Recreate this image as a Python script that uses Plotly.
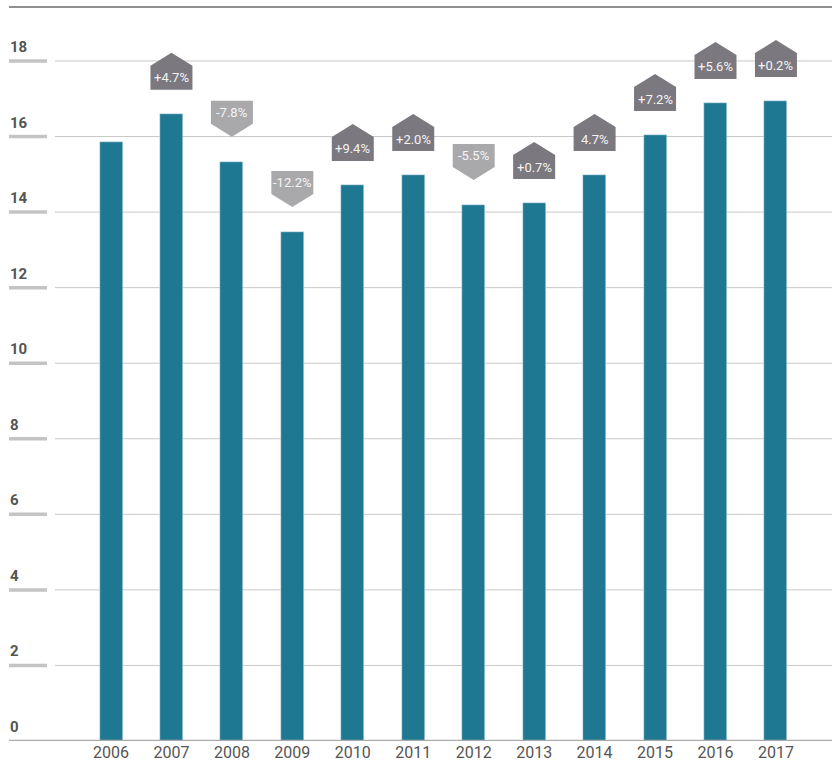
import plotly.graph_objects as go

years = ["2006", "2007", "2008", "2009", "2010", "2011", "2012", "2013", "2014", "2015", "2016", "2017"]
values = [15.85, 16.6, 15.33, 13.47, 14.72, 14.98, 14.19, 14.24, 14.98, 16.04, 16.89, 16.94]
changes = [None, "+4.7%", "-7.8%", "-12.2%", "+9.4%", "+2.0%", "-5.5%", "+0.7%", "4.7%", "+7.2%", "+5.6%", "+0.2%"]
change_up = [None, True, False, False, True, True, False, True, True, True, True, True]
y_ticks = [0, 2, 4, 6, 8, 10, 12, 14, 16, 18]

W, H = 832, 774
PL, PR, PT, PB = 55, 832, 20, 741   # plot area in screen px
ML, MR, MT, MB = PL, W - PR, PT, H - PB
plot_w = PR - PL
plot_h = PB - PT
step_px = 60.45
first_px = 111 - PL
x_min = -first_px / step_px
x_max = x_min + plot_w / step_px
px_per_unit = 37.78
y_max = plot_h / px_per_unit

ux = 1.0 / step_px      # x units per pixel
uy = 1.0 / px_per_unit  # y units per pixel

BAR = "#1e7891"
UP = "#7b787f"
DOWN = "#a9a9ab"

xs = list(range(len(years)))
fig = go.Figure()
fig.add_trace(go.Bar(x=xs, y=values, marker_color=BAR, width=23 * ux,
                     hoverinfo="skip"))

shapes = []
annotations = []

def px_x(p):
    return (p - PL) / plot_w

def px_y(p):
    return (PB - p) / plot_h

# top rule
shapes.append(dict(type="line", xref="paper", yref="paper",
                   x0=px_x(9), x1=px_x(832), y0=px_y(7), y1=px_y(7),
                   line=dict(color="#6a6a6a", width=1.5)))

# gridlines + left tick marks + labels
for t in y_ticks:
    if t == 0:
        shapes.append(dict(type="line", xref="paper", yref="y", x0=px_x(9), x1=1,
                           y0=0, y1=0, line=dict(color="#ababab", width=2.5), layer="above"))
    else:
        shapes.append(dict(type="line", xref="paper", yref="y", x0=0, x1=1,
                           y0=t, y1=t, line=dict(color="#c9c9c9", width=1), layer="below"))
        shapes.append(dict(type="line", xref="paper", yref="y", x0=px_x(9), x1=px_x(47),
                           y0=t, y1=t, line=dict(color="#c4c4c4", width=3.5)))
    annotations.append(dict(text=str(t), xref="paper", yref="y", x=px_x(8), y=t,
                            xanchor="left", yanchor="middle", yshift=14, showarrow=False,
                            font=dict(family="Roboto", size=15, color="#555555", weight="bold")))

# change badges
hw = 21 * ux
for i, (v, lab, up) in enumerate(zip(values, changes, change_up)):
    if lab is None:
        continue
    if up:
        r0 = v + 24 * uy
        r1 = r0 + 24 * uy
        apex = r1 + 13 * uy
        path = (f"M {i-hw},{r0} L {i+hw},{r0} L {i+hw},{r1} L {i},{apex} "
                f"L {i-hw},{r1} Z")
        col = UP
    else:
        pt = v + 25 * uy
        r0 = pt + 13 * uy
        r1 = r0 + 23 * uy
        path = (f"M {i},{pt} L {i+hw},{r0} L {i+hw},{r1} L {i-hw},{r1} "
                f"L {i-hw},{r0} Z")
        col = DOWN
    shapes.append(dict(type="path", xref="x", yref="y", path=path,
                       fillcolor=col, line=dict(width=0), layer="above"))
    annotations.append(dict(text=lab, x=i, y=(r0 + r1) / 2, xref="x", yref="y",
                            showarrow=False, xanchor="center", yanchor="middle",
                            font=dict(family="Roboto", size=13, color="#f4f4f4")))

fig.update_layout(
    width=W, height=H,
    margin=dict(l=ML, r=MR, t=MT, b=MB),
    paper_bgcolor="white", plot_bgcolor="white",
    showlegend=False,
    shapes=shapes, annotations=annotations,
    xaxis=dict(range=[x_min, x_max], tickvals=xs, ticktext=years, showgrid=False,
               zeroline=False, showline=False, ticks="",
               tickfont=dict(family="Roboto", size=16, color="#555555")),
    yaxis=dict(range=[0, y_max], showgrid=False, zeroline=False, showticklabels=False,
               showline=False),
    bargap=0,
)

fig.write_html("out.html", config={"displayModeBar": False},
               post_script="document.body.style.margin='0';document.body.style.overflow='hidden';")
